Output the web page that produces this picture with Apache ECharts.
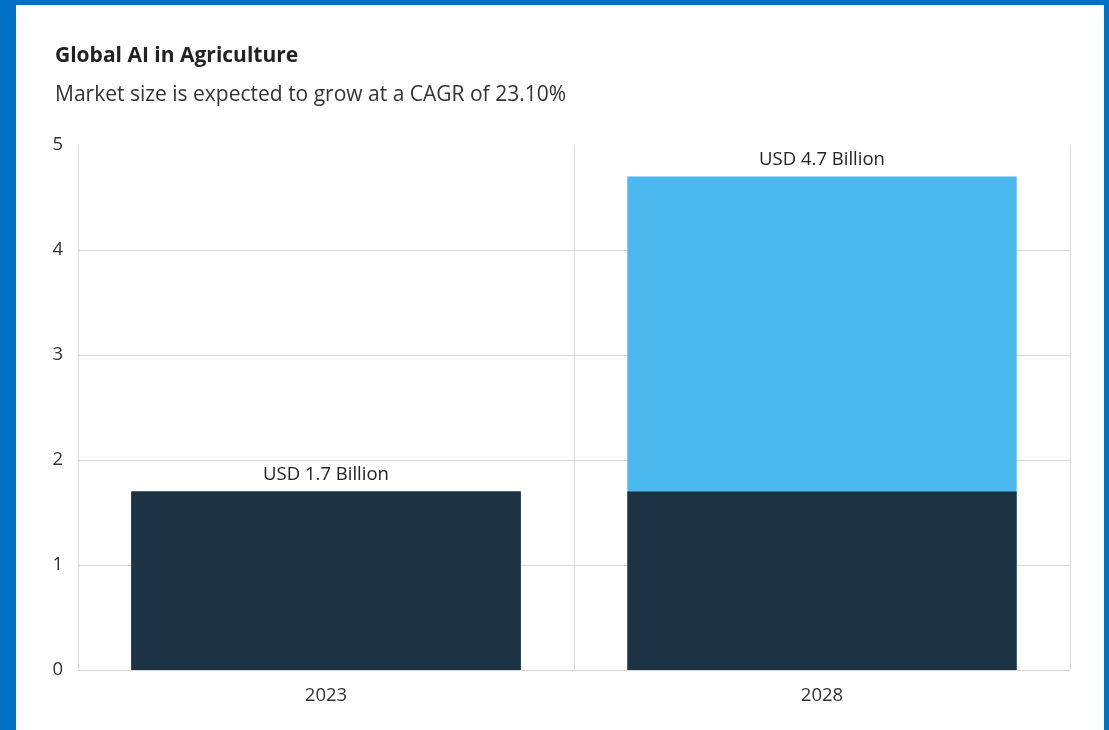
<!DOCTYPE html>
<html>
<head>
<meta charset="utf-8">
<script src="https://cdn.jsdelivr.net/npm/echarts@6/dist/echarts.min.js"></script>
<style>
  html, body { margin: 0; padding: 0; width: 1109px; height: 730px; overflow: hidden; background: #0071c5; }
  #card { position: absolute; left: 16px; top: 5px; width: 1088px; height: 725px; background: #ffffff; }
</style>
</head>
<body>
<div id="card"></div>
<script>
// Chart data
const years = ['2023', '2028'];
const baseSize = [1.7, 1.7];       // 2023 market size, carried as the dark base
const marketSize = [1.7, 4.7];     // total market size per year (USD billion)
const yTicks = [0, 1, 2, 3, 4, 5];

const DARK = '#1c3245';
const LIGHT = '#4bb8ef';
const GRID = '#d9d9d9';
const FONT = '"Open Sans", "Noto Sans", sans-serif';

const chart = echarts.init(document.getElementById('card'), null, { renderer: 'canvas' });

chart.setOption({
  animation: false,
  title: {
    text: 'Global AI in Agriculture',
    subtext: 'Market size is expected to grow at a CAGR of 23.10%',
    left: 34,
    top: 36,
    itemGap: 18,
    textStyle: { fontFamily: FONT, fontSize: 21, fontWeight: 'bold', color: '#222222' },
    subtextStyle: { fontFamily: FONT, fontSize: 21, color: '#333333' }
  },
  grid: { left: 62, right: 34, top: 140, bottom: 60, containLabel: false },
  xAxis: {
    type: 'category',
    data: years,
    axisLine: { show: true, lineStyle: { color: GRID, width: 1 } },
    axisTick: { show: false },
    axisLabel: { fontFamily: FONT, fontSize: 18.5, color: '#333333', margin: 16 },
    splitLine: { show: true, lineStyle: { color: GRID, width: 1 } }
  },
  yAxis: {
    type: 'value',
    min: yTicks[0],
    max: yTicks[yTicks.length - 1],
    interval: 1,
    axisLine: { show: true, lineStyle: { color: GRID, width: 1 } },
    axisTick: { show: false },
    axisLabel: { fontFamily: FONT, fontSize: 18.5, color: '#333333', margin: 15 },
    splitLine: { show: true, showMaxLine: false, lineStyle: { color: GRID, width: 1 } }
  },
  series: [
    {
      name: 'Market size',
      type: 'bar',
      barWidth: '78.5%',
      barGap: '-100%',
      z: 2,
      data: marketSize.map((v, i) => ({
        value: v,
        itemStyle: { color: i === 0 ? DARK : LIGHT }
      })),
      label: {
        show: true,
        position: 'top',
        distance: 7,
        fontFamily: FONT,
        fontSize: 18.5,
        color: '#222222',
        formatter: p => 'USD ' + p.value + ' Billion'
      }
    },
    {
      name: 'Base',
      type: 'bar',
      barWidth: '78.5%',
      barGap: '-100%',
      z: 3,
      itemStyle: { color: DARK },
      data: baseSize
    }
  ]
});
</script>
</body>
</html>
